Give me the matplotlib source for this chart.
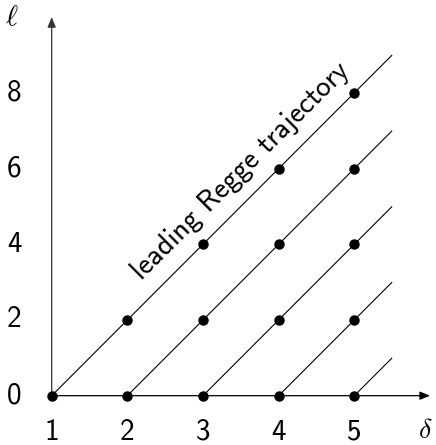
import matplotlib
matplotlib.use("Agg")
import matplotlib.pyplot as plt

plt.rcParams['mathtext.fontset'] = 'cm'

# Data
traj_start_delta = [1, 2, 3, 4, 5]
traj_start_ell = [0, 0, 0, 0, 0]
traj_end_delta = [5.5, 5.5, 5.5, 5.5, 5.5]
traj_end_ell = [9, 7, 5, 3, 1]

point_delta = [1, 2, 2, 3, 3, 3, 4, 4, 4, 4, 5, 5, 5, 5, 5]
point_ell = [0, 0, 2, 0, 2, 4, 0, 2, 4, 6, 0, 2, 4, 6, 8]

x_ticks = [1, 2, 3, 4, 5]
y_ticks = [0, 2, 4, 6, 8]
x_tick_labels = ["1", "2", "3", "4", "5"]
y_tick_labels = ["0", "2", "4", "6", "8"]

label_text = "leading Regge trajectory"

fig = plt.figure(figsize=(4.36, 4.45), dpi=100)
ax = fig.add_axes([0, 0, 1, 1])
ax.set_xlim(0.3166, 6.080)
ax.set_ylim(-1.3025, 10.454)
ax.axis('off')

# axes arrows
ax.annotate('', xy=(6.0, 0), xytext=(1, 0),
            arrowprops=dict(arrowstyle='-|>,head_length=0.6,head_width=0.25',
                            lw=0.9, color='black', mutation_scale=10,
                            shrinkA=0, shrinkB=0))
ax.annotate('', xy=(1, 10.0), xytext=(1, 0),
            arrowprops=dict(arrowstyle='-|>,head_length=0.6,head_width=0.25',
                            lw=0.9, color='#333333', mutation_scale=10,
                            shrinkA=0, shrinkB=0))

for xs, ys, xe, ye in zip(traj_start_delta, traj_start_ell, traj_end_delta, traj_end_ell):
    ax.plot([xs, xe], [ys, ye], color='black', lw=0.8, solid_capstyle='butt')

ax.plot(point_delta, point_ell, 'o', color='black', markersize=6.5, zorder=5)

tick_font = 'cmss10'
for x, t in zip(x_ticks, x_tick_labels):
    ax.text(x, -0.972, t, ha='center', va='center', fontsize=21, family=tick_font)
for y, t in zip(y_ticks, y_tick_labels):
    ax.text(0.502, y, t, ha='center', va='center', fontsize=21, family=tick_font)

ax.text(0.476, 10.0, r'$\ell$', ha='center', va='center', fontsize=21)
ax.text(5.94, -0.9, r'$\delta$', ha='center', va='center', fontsize=20)

ax.text(3.505, 5.94, label_text, rotation=45, rotation_mode='anchor',
        ha='center', va='center', fontsize=21, family=tick_font)

fig.savefig('out.png', dpi=100)
